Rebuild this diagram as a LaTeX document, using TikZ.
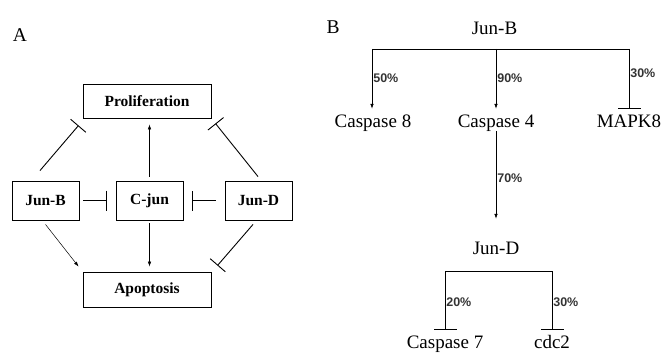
\documentclass[tikz,border=0pt]{standalone}
\usepackage{fontspec}
\setmainfont{Liberation Serif}
\newfontfamily\pctfont{Liberation Sans}
\usepackage{tikz}
\usetikzlibrary{positioning,calc,arrows.meta}

\begin{document}
\begin{tikzpicture}[x=1pt, y=1pt,
    box/.style={draw, line width=0.9pt, minimum width=67pt, minimum height=39pt, inner sep=0pt, font=\fontsize{15.5}{18}\selectfont\bfseries},
    wide/.style={box, minimum width=128pt, minimum height=34pt},
    gene/.style={inner sep=2pt, text height=0.7em, text depth=0.2em, font=\fontsize{19}{22}\selectfont},
    panel/.style={inner sep=0pt, font=\fontsize{19.5}{22}\selectfont},
    act/.style={-{Latex[length=5pt,width=3.5pt]}, line width=0.5pt},
    inh/.style={-{Bar[width=20pt]}, line width=0.9pt},
    inhb/.style={-{Bar[width=23pt]}, line width=0.6pt},
    pct/.style={right, inner sep=1pt, font=\pctfont\fontsize{12.5}{12}\selectfont\bfseries, text=black!80}]
    \useasboundingbox (0,0) rectangle (661,-353);

    % Panel A
    \node [panel] (labA) at (20,-35) {A};
    \node [wide] (prolif) at (147,-101) {Proliferation};
    \node [box] (junb) at (45.5,-200.5) {Jun-B};
    \node [box] (cjun) at (149.5,-200.5) {C-jun};
    \node [box] (jund) at (258.5,-200.5) {Jun-D};
    \node [wide, minimum height=35pt] (apop) at (147,-289.5) {Apoptosis};

    \draw[inh] ([shift={(-5.5,10)}]junb.north) -- ([shift={(-4,-7)}]prolif.south west);
    \draw[inh] ([shift={(-0.5,4)}]jund.north) -- ([shift={(4,-5)}]prolif.south east);
    \draw[act, shorten <=4pt, shorten >=6pt] (cjun) -- (cjun |- prolif.south);
    \draw[inh, shorten <=4pt, shorten >=9pt] (junb) -- (cjun);
    \draw[inh, shorten <=9pt, shorten >=9pt] (jund) -- (cjun);
    \draw[act, shorten <=3pt, shorten >=5pt] (cjun) -- (cjun |- apop.north);
    \draw[act] ([yshift=-4pt]junb.south) -- ([shift={(-4,5)}]apop.north west);
    \draw[inh] ([shift={(-5.5,-4)}]jund.south) -- ([shift={(6,6)}]apop.north east);

    % Panel B
    \node [panel] (labB) at (333,-27) {B};
    \node [gene] (junb2) at (494.5,-32.5) {Jun-B};
    \node [gene] (casp8) at (373,-124.5) {Caspase 8};
    \node [gene] (casp4) at (496,-124.5) {Caspase 4};
    \node [gene] (mapk8) at (629,-124.5) {MAPK8};
    \node [gene] (jund2) at (496,-252) {Jun-D};
    \node [gene] (casp7) at (445,-346) {Caspase 7};
    \node [gene] (cdc2) at (552,-346) {cdc2};
    \coordinate (bus1) at (496,-49);
    \coordinate (bus2) at (498,-271);

    \draw[line width=0.6pt] (372,0 |- bus1) -- (mapk8 |- bus1);
    \draw[act, line width=0.6pt] (372,0 |- bus1) -- node[pct, pos=0.48]{50\%} ([shift={(-1,9)}]casp8.north);
    \draw[act, line width=0.6pt] (casp4 |- bus1) -- node[pct, pos=0.48]{90\%} ([yshift=9pt]casp4.north);
    \draw[inhb] (mapk8 |- bus1) -- node[pct, pos=0.41]{30\%} ([yshift=9pt]mapk8.north);
    \draw[act, line width=0.6pt] (casp4.south) -- node[pct, pos=0.54]{70\%} ([yshift=26.5pt]jund2.north);

    \draw[line width=0.6pt] (casp7 |- bus2) -- (cdc2 |- bus2);
    \draw[inhb] (casp7 |- bus2) -- node[pct, pos=0.53]{20\%} ([yshift=9.5pt]casp7.north);
    \draw[inhb] (cdc2 |- bus2) -- node[pct, pos=0.53]{30\%} ([yshift=9.5pt]cdc2.north);
\end{tikzpicture}
\end{document}
